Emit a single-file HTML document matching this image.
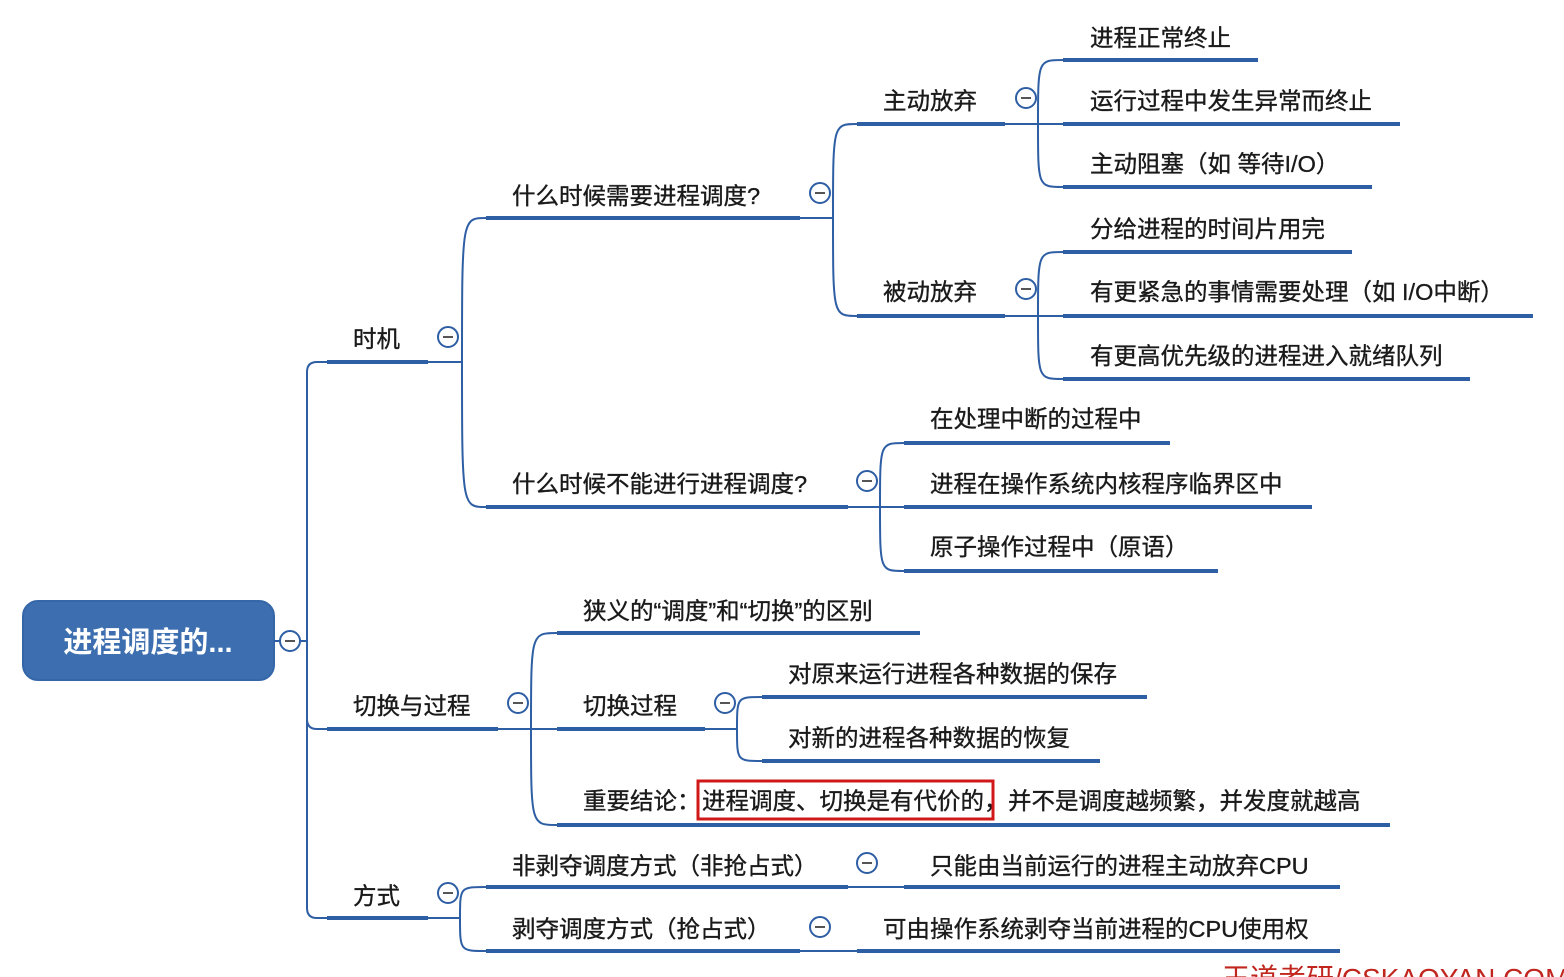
<!DOCTYPE html>
<html><head><meta charset="utf-8"><style>
html,body{margin:0;padding:0;background:#fff;}
svg{display:block;}
text{font-family:"Liberation Sans","Noto Sans CJK SC",sans-serif;font-size:23.5px;fill:#1a1a1a;stroke:#1a1a1a;stroke-width:0.35;}
.u{stroke:#2e5ea4;stroke-width:4;fill:none;}
.l{stroke:#2e5ea4;stroke-width:2;fill:none;}
.c{stroke:#2e5ea4;stroke-width:2;fill:#fff;}
.m{stroke:#555;stroke-width:2;}
</style></head><body>
<svg width="1564" height="977" viewBox="0 0 1564 977" xmlns="http://www.w3.org/2000/svg">
<rect x="0" y="0" width="1564" height="977" fill="#fff"/>
<!-- root -->
<rect x="23" y="601" width="251" height="79" rx="15" fill="#3d6fb0" stroke="#3566a8" stroke-width="2"/>
<text x="148" y="652" text-anchor="middle" style="font-size:29px;font-weight:bold;fill:#fff;stroke:none">进程调度的...</text>
<path class="l" d="M274,641 L307,641"/>
<!-- trunk -->
<path class="l" d="M307,641 L307,372 Q307,362 317,362 L327,362"/>
<path class="l" d="M307,641 L307,719 Q307,729 317,729 L327,729"/>
<path class="l" d="M307,641 L307,908 Q307,918 317,918 L327,918"/>

<path class="u" d="M327,362 L428,362"/><text x="353" y="347">时机</text>
<path class="u" d="M327,729 L498,729"/><text x="353" y="714">切换与过程</text>
<path class="u" d="M327,918 L428,918"/><text x="353" y="904">方式</text>

<!-- 时机 branch -->
<path class="l" d="M428,362 L462,362 M462,362 C462,218 462,218 486,218 M462,362 C462,507 462,507 486,507"/>
<path class="u" d="M486,218 L800,218"/><text x="512" y="204">什么时候需要进程调度?</text>
<path class="u" d="M486,507 L848,507"/><text x="512" y="492">什么时候不能进行进程调度?</text>

<path class="l" d="M800,218 L833,218 M833,218 C833,124 833,124 857,124 M833,218 C833,316 833,316 857,316"/>
<path class="u" d="M857,124 L1005,124"/><text x="883" y="109">主动放弃</text>
<path class="u" d="M857,316 L1005,316"/><text x="883" y="300">被动放弃</text>

<path class="l" d="M1005,124 L1038,124 L1063,124 M1038,124 C1038,60 1038,60 1063,60 M1038,124 C1038,187 1038,187 1063,187"/>
<path class="u" d="M1063,60 L1258,60"/><text x="1090" y="46">进程正常终止</text>
<path class="u" d="M1063,124 L1400,124"/><text x="1090" y="109">运行过程中发生异常而终止</text>
<path class="u" d="M1063,187 L1372,187"/><text x="1090" y="172">主动阻塞（如 等待I/O）</text>

<path class="l" d="M1005,316 L1063,316 M1038,316 C1038,252 1038,252 1063,252 M1038,316 C1038,379 1038,379 1063,379"/>
<path class="u" d="M1063,252 L1352,252"/><text x="1090" y="237">分给进程的时间片用完</text>
<path class="u" d="M1063,316 L1533,316"/><text x="1090" y="300">有更紧急的事情需要处理（如 I/O中断）</text>
<path class="u" d="M1063,379 L1470,379"/><text x="1090" y="364">有更高优先级的进程进入就绪队列</text>

<path class="l" d="M848,507 L904,507 M880,507 C880,443 880,443 904,443 M880,507 C880,571 880,571 904,571"/>
<path class="u" d="M904,443 L1170,443"/><text x="930" y="427">在处理中断的过程中</text>
<path class="u" d="M904,507 L1312,507"/><text x="930" y="492">进程在操作系统内核程序临界区中</text>
<path class="u" d="M904,571 L1218,571"/><text x="930" y="555">原子操作过程中（原语）</text>

<!-- 切换与过程 -->
<path class="l" d="M498,729 L557,729 M531,729 C531,633 531,633 557,633 M531,729 C531,825 531,825 557,825"/>
<path class="u" d="M557,633 L920,633"/><text x="583" y="619">狭义的“调度”和“切换”的区别</text>
<path class="u" d="M557,729 L705,729"/><text x="583" y="714">切换过程</text>
<path class="u" d="M557,825 L1390,825"/><text x="583" y="809">重要结论：<tspan x="702">进程调度、切换是有代价的，</tspan><tspan x="1008">并不是调度越频繁，并发度就越高</tspan></text>
<rect x="698" y="781" width="295" height="38" fill="none" stroke="#d01818" stroke-width="3"/>

<path class="l" d="M705,729 L737,729 M737,729 C737,697 737,697 762,697 M737,729 C737,761 737,761 762,761"/>
<path class="u" d="M762,697 L1147,697"/><text x="788" y="682">对原来运行进程各种数据的保存</text>
<path class="u" d="M762,761 L1100,761"/><text x="788" y="746">对新的进程各种数据的恢复</text>

<!-- 方式 -->
<path class="l" d="M428,918 L460,918 M460,918 C460,887 460,887 486,887 M460,918 C460,951 460,951 486,951"/>
<path class="u" d="M486,887 L848,887"/><text x="512" y="874">非剥夺调度方式（非抢占式）</text>
<path class="u" d="M486,951 L800,951"/><text x="512" y="937">剥夺调度方式（抢占式）</text>
<path class="l" d="M848,887 L904,887"/>
<path class="u" d="M904,887 L1340,887"/><text x="930" y="874">只能由当前运行的进程主动放弃CPU</text>
<path class="l" d="M800,951 L857,951"/>
<path class="u" d="M857,951 L1340,951"/><text x="883" y="937">可由操作系统剥夺当前进程的CPU使用权</text>

<g>
<circle class="c" cx="290" cy="641" r="10"/><line class="m" x1="285" y1="641" x2="295" y2="641"/>
<circle class="c" cx="448" cy="337" r="10"/><line class="m" x1="443" y1="337" x2="453" y2="337"/>
<circle class="c" cx="820" cy="193" r="10"/><line class="m" x1="815" y1="193" x2="825" y2="193"/>
<circle class="c" cx="1026" cy="98" r="10"/><line class="m" x1="1021" y1="98" x2="1031" y2="98"/>
<circle class="c" cx="1026" cy="289" r="10"/><line class="m" x1="1021" y1="289" x2="1031" y2="289"/>
<circle class="c" cx="867" cy="481" r="10"/><line class="m" x1="862" y1="481" x2="872" y2="481"/>
<circle class="c" cx="518" cy="703" r="10"/><line class="m" x1="513" y1="703" x2="523" y2="703"/>
<circle class="c" cx="725" cy="703" r="10"/><line class="m" x1="720" y1="703" x2="730" y2="703"/>
<circle class="c" cx="448" cy="893" r="10"/><line class="m" x1="443" y1="893" x2="453" y2="893"/>
<circle class="c" cx="867" cy="863" r="10"/><line class="m" x1="862" y1="863" x2="872" y2="863"/>
<circle class="c" cx="820" cy="927" r="10"/><line class="m" x1="815" y1="927" x2="825" y2="927"/>
</g>
<text x="1222" y="988" style="font-size:28px;fill:#c0261e;stroke:none">王道考研/CSKAOYAN.COM</text>
</svg>
</body></html>
